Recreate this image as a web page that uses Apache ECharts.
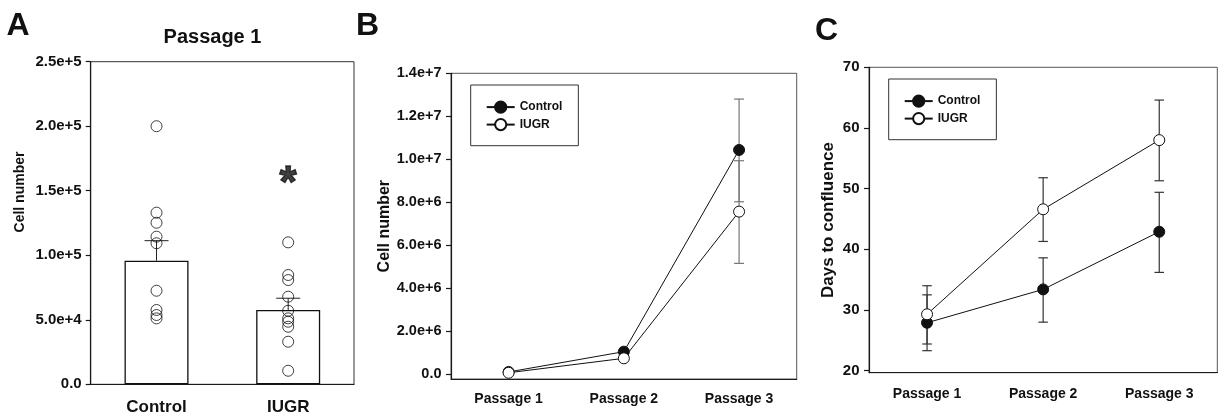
<!DOCTYPE html>
<html>
<head>
<meta charset="utf-8">
<script src="https://cdn.jsdelivr.net/npm/echarts@6/dist/echarts.min.js"></script>
<style>
html,body{margin:0;padding:0;background:#fff;}
#chart{width:1218px;height:417px;}
</style>
</head>
<body>
<div id="chart"></div>
<script>
// ---------- Panel A data ----------
const aCategories = ['Control', 'IUGR'];
const aMeans = [95800, 57600];
const aSemTop = [111300, 66700];
const aControlPoints = [200000, 133000, 125200, 114400, 109300, 72500, 57600, 53700, 51100];
const aIugrPoints = [110000, 84700, 80800, 67900, 57000, 51100, 48500, 44600, 33000, 10500];
const aYTicks = [0, 50000, 100000, 150000, 200000, 250000];
const aYTickLabels = ['0.0', '5.0e+4', '1.0e+5', '1.5e+5', '2.0e+5', '2.5e+5'];
const aStarValue = 161000;

// ---------- Panel B data ----------
const passages = ['Passage 1', 'Passage 2', 'Passage 3'];
const bControl = [96000, 1040000, 10430000];
const bIugr = [58000, 730000, 7560000];
const bControlLow = [null, null, 8020000];
const bControlHigh = [null, null, 12800000];
const bIugrLow = [null, null, 5150000];
const bIugrHigh = [null, null, 9930000];
const bYTicks = [0, 2e6, 4e6, 6e6, 8e6, 1e7, 1.2e7, 1.4e7];
const bYTickLabels = ['0.0', '2.0e+6', '4.0e+6', '6.0e+6', '8.0e+6', '1.0e+7', '1.2e+7', '1.4e+7'];

// ---------- Panel C data ----------
const cControl = [27.9, 33.4, 42.9];
const cControlLow = [23.3, 28.0, 36.2];
const cControlHigh = [32.5, 38.6, 49.4];
const cIugr = [29.3, 46.6, 58.0];
const cIugrLow = [24.4, 41.3, 51.3];
const cIugrHigh = [34.0, 51.8, 64.6];
const cYTicks = [20, 30, 40, 50, 60, 70];
const cYTickLabels = ['20', '30', '40', '50', '60', '70'];

const FONT = '"Liberation Sans", Arial, sans-serif';
const INK = '#111';

function errData(low, high) {
  const out = [];
  low.forEach((l, i) => { if (l != null && high[i] != null) out.push([i, l, high[i]]); });
  return out;
}
function errRender(capW, bottomCap, color, width) {
  return function (params, api) {
    const lo = api.coord([api.value(0), api.value(1)]);
    const hi = api.coord([api.value(0), api.value(2)]);
    const st = { stroke: color, lineWidth: width };
    const children = [
      { type: 'line', shape: { x1: lo[0], y1: lo[1], x2: hi[0], y2: hi[1] }, style: st },
      { type: 'line', shape: { x1: hi[0] - capW / 2, y1: hi[1], x2: hi[0] + capW / 2, y2: hi[1] }, style: st }
    ];
    if (bottomCap) children.push({ type: 'line', shape: { x1: lo[0] - capW / 2, y1: lo[1], x2: lo[0] + capW / 2, y2: lo[1] }, style: st });
    return { type: 'group', children };
  };
}
function lookup(ticks, labels) {
  return v => { const i = ticks.findIndex(t => Math.abs(t - v) < 1e-6 * Math.max(1, Math.abs(t))); return i >= 0 ? labels[i] : ''; };
}
const axisLineStyle = { color: '#1a1a1a', width: 1.2 };

const chart = echarts.init(document.getElementById('chart'), null, { renderer: 'canvas' });

const option = {
  animation: false,
  backgroundColor: '#fff',
  textStyle: { fontFamily: FONT },
  graphic: [
    { type: 'text', x: 6.5, y: 26, style: { text: 'A', font: 'bold 32px ' + FONT, fill: INK, align: 'left', verticalAlign: 'middle' } },
    { type: 'text', x: 356, y: 26, style: { text: 'B', font: 'bold 32px ' + FONT, fill: INK, align: 'left', verticalAlign: 'middle' } },
    { type: 'text', x: 815, y: 31, style: { text: 'C', font: 'bold 32px ' + FONT, fill: INK, align: 'left', verticalAlign: 'middle' } },
    { type: 'text', x: 212.5, y: 37, style: { text: 'Passage 1', font: 'bold 20px ' + FONT, fill: INK, align: 'center', verticalAlign: 'middle' } }
  ],
  legend: [
    {
      left: 470.7, top: 85, orient: 'vertical',
      padding: [15.5, 16, 14.5, 15], itemGap: 4.3, itemWidth: 28, itemHeight: 14,
      borderColor: '#333', borderWidth: 1,
      textStyle: { fontSize: 12, fontWeight: 'bold', color: INK, fontFamily: FONT },
      selectedMode: false,
      data: ['Control', 'IUGR']
    },
    {
      left: 888.7, top: 79, orient: 'vertical',
      padding: [15.5, 16, 14.5, 15], itemGap: 4.3, itemWidth: 28, itemHeight: 14,
      borderColor: '#333', borderWidth: 1,
      textStyle: { fontSize: 12, fontWeight: 'bold', color: INK, fontFamily: FONT },
      selectedMode: false,
      data: ['Control', 'IUGR']
    }
  ],
  grid: [
    { left: 90.7, top: 61.7, width: 263.3, height: 322.6, show: true, borderColor: '#333', borderWidth: 1, backgroundColor: 'transparent' },
    { left: 451, top: 73.3, width: 345.7, height: 305.7, show: true, borderColor: '#555', borderWidth: 1, backgroundColor: 'transparent' },
    { left: 869, top: 67.3, width: 348.3, height: 305.4, show: true, borderColor: '#555', borderWidth: 1, backgroundColor: 'transparent' }
  ],
  xAxis: [
    {
      gridIndex: 0, type: 'category', data: aCategories, boundaryGap: true,
      axisLine: { onZero: false, lineStyle: axisLineStyle }, axisTick: { alignWithLabel: true, length: 6, lineStyle: axisLineStyle },
      axisLabel: { fontSize: 17, fontWeight: 'bold', color: INK, margin: 15 }, splitLine: { show: false }
    },
    {
      gridIndex: 1, type: 'category', data: passages, boundaryGap: true,
      axisLine: { onZero: false, lineStyle: axisLineStyle }, axisTick: { alignWithLabel: true, length: 5, lineStyle: axisLineStyle },
      axisLabel: { fontSize: 14, fontWeight: 'bold', color: INK, margin: 13.5 }, splitLine: { show: false }
    },
    {
      gridIndex: 2, type: 'category', data: passages, boundaryGap: true,
      axisLine: { onZero: false, lineStyle: axisLineStyle }, axisTick: { alignWithLabel: true, length: 5, lineStyle: axisLineStyle },
      axisLabel: { fontSize: 14, fontWeight: 'bold', color: INK, margin: 14 }, splitLine: { show: false }
    }
  ],
  yAxis: [
    {
      gridIndex: 0, type: 'value', min: 0, max: 250000, interval: 50000,
      name: 'Cell number', nameLocation: 'middle', nameGap: 64,
      nameTextStyle: { fontSize: 14, fontWeight: 'bold', color: INK, padding: [0, 0, 0, 62] },
      axisLine: { show: true, onZero: false, lineStyle: axisLineStyle }, axisTick: { show: true, length: 5, lineStyle: axisLineStyle },
      axisLabel: { fontSize: 15, fontWeight: 'bold', color: INK, margin: 9, formatter: lookup(aYTicks, aYTickLabels) },
      splitLine: { show: false }
    },
    {
      gridIndex: 1, type: 'value', min: -232800, max: 14000000,
      name: 'Cell number', nameLocation: 'middle', nameGap: 57.7,
      nameTextStyle: { fontSize: 16, fontWeight: 'bold', color: INK },
      axisLine: { show: true, onZero: false, lineStyle: axisLineStyle }, axisTick: { show: true, length: 5, lineStyle: axisLineStyle, customValues: bYTicks },
      axisLabel: { fontSize: 14.5, fontWeight: 'bold', color: INK, margin: 9.5, customValues: bYTicks, formatter: lookup(bYTicks, bYTickLabels) },
      splitLine: { show: false }
    },
    {
      gridIndex: 2, type: 'value', min: 19.67, max: 70,
      name: 'Days to confluence', nameLocation: 'middle', nameGap: 32.3,
      nameTextStyle: { fontSize: 17, fontWeight: 'bold', color: INK },
      axisLine: { show: true, onZero: false, lineStyle: axisLineStyle }, axisTick: { show: true, length: 5, lineStyle: axisLineStyle, customValues: cYTicks },
      axisLabel: { fontSize: 15, fontWeight: 'bold', color: INK, margin: 9.5, customValues: cYTicks, formatter: lookup(cYTicks, cYTickLabels) },
      splitLine: { show: false }
    }
  ],
  series: [
    // Panel A
    {
      name: 'A mean', type: 'bar', xAxisIndex: 0, yAxisIndex: 0, data: aMeans, barWidth: 64, z: 2,
      itemStyle: { color: '#fff', borderColor: INK, borderWidth: 1.3 }
    },
    {
      name: 'A sem', type: 'custom', xAxisIndex: 0, yAxisIndex: 0, z: 3,
      data: aMeans.map((m, i) => [i, m, aSemTop[i]]), encode: { x: 0, y: [1, 2] },
      renderItem: errRender(24, false, '#222', 1)
    },
    {
      name: 'A points', type: 'scatter', xAxisIndex: 0, yAxisIndex: 0, z: 4, symbol: 'circle', symbolSize: 11,
      itemStyle: { color: 'rgba(0,0,0,0)', borderColor: INK, borderWidth: 1 },
      data: aControlPoints.map(v => [0, v]).concat(aIugrPoints.map(v => [1, v]))
    },
    {
      name: 'A star', type: 'scatter', xAxisIndex: 0, yAxisIndex: 0, z: 5, symbolSize: 0,
      data: [[1, aStarValue]],
      label: { show: true, position: 'inside', formatter: '*', fontSize: 44, fontWeight: 'bold', color: INK,
        textBorderColor: INK, textBorderWidth: 1.4, offset: [0, 8] }
    },
    // Panel B
    {
      name: 'B errC', type: 'custom', xAxisIndex: 1, yAxisIndex: 1, z: 1,
      data: errData(bControlLow, bControlHigh), encode: { x: 0, y: [1, 2] }, renderItem: errRender(10, true, '#777', 1.2)
    },
    {
      name: 'B errI', type: 'custom', xAxisIndex: 1, yAxisIndex: 1, z: 1,
      data: errData(bIugrLow, bIugrHigh), encode: { x: 0, y: [1, 2] }, renderItem: errRender(10, true, '#777', 1.2)
    },
    {
      name: 'Control', type: 'line', xAxisIndex: 1, yAxisIndex: 1, data: bControl, z: 3,
      symbol: 'circle', symbolSize: 11, showAllSymbol: true,
      lineStyle: { color: INK, width: 1 }, itemStyle: { color: INK, borderColor: INK, borderWidth: 1 }
    },
    {
      name: 'IUGR', type: 'line', xAxisIndex: 1, yAxisIndex: 1, data: bIugr, z: 4,
      symbol: 'circle', symbolSize: 11, showAllSymbol: true,
      lineStyle: { color: INK, width: 1 }, itemStyle: { color: '#fff', borderColor: INK, borderWidth: 1 }
    },
    // Panel C
    {
      name: 'C errC', type: 'custom', xAxisIndex: 2, yAxisIndex: 2, z: 1,
      data: errData(cControlLow, cControlHigh), encode: { x: 0, y: [1, 2] }, renderItem: errRender(9.5, true, '#333', 1.2)
    },
    {
      name: 'C errI', type: 'custom', xAxisIndex: 2, yAxisIndex: 2, z: 1,
      data: errData(cIugrLow, cIugrHigh), encode: { x: 0, y: [1, 2] }, renderItem: errRender(9.5, true, '#333', 1.2)
    },
    {
      name: 'Control', type: 'line', xAxisIndex: 2, yAxisIndex: 2, data: cControl, z: 3,
      symbol: 'circle', symbolSize: 11, showAllSymbol: true,
      lineStyle: { color: INK, width: 1 }, itemStyle: { color: INK, borderColor: INK, borderWidth: 1 }
    },
    {
      name: 'IUGR', type: 'line', xAxisIndex: 2, yAxisIndex: 2, data: cIugr, z: 4,
      symbol: 'circle', symbolSize: 11, showAllSymbol: true,
      lineStyle: { color: INK, width: 1 }, itemStyle: { color: '#fff', borderColor: INK, borderWidth: 1 }
    }
  ]
};
chart.setOption(option);
</script>
</body>
</html>
